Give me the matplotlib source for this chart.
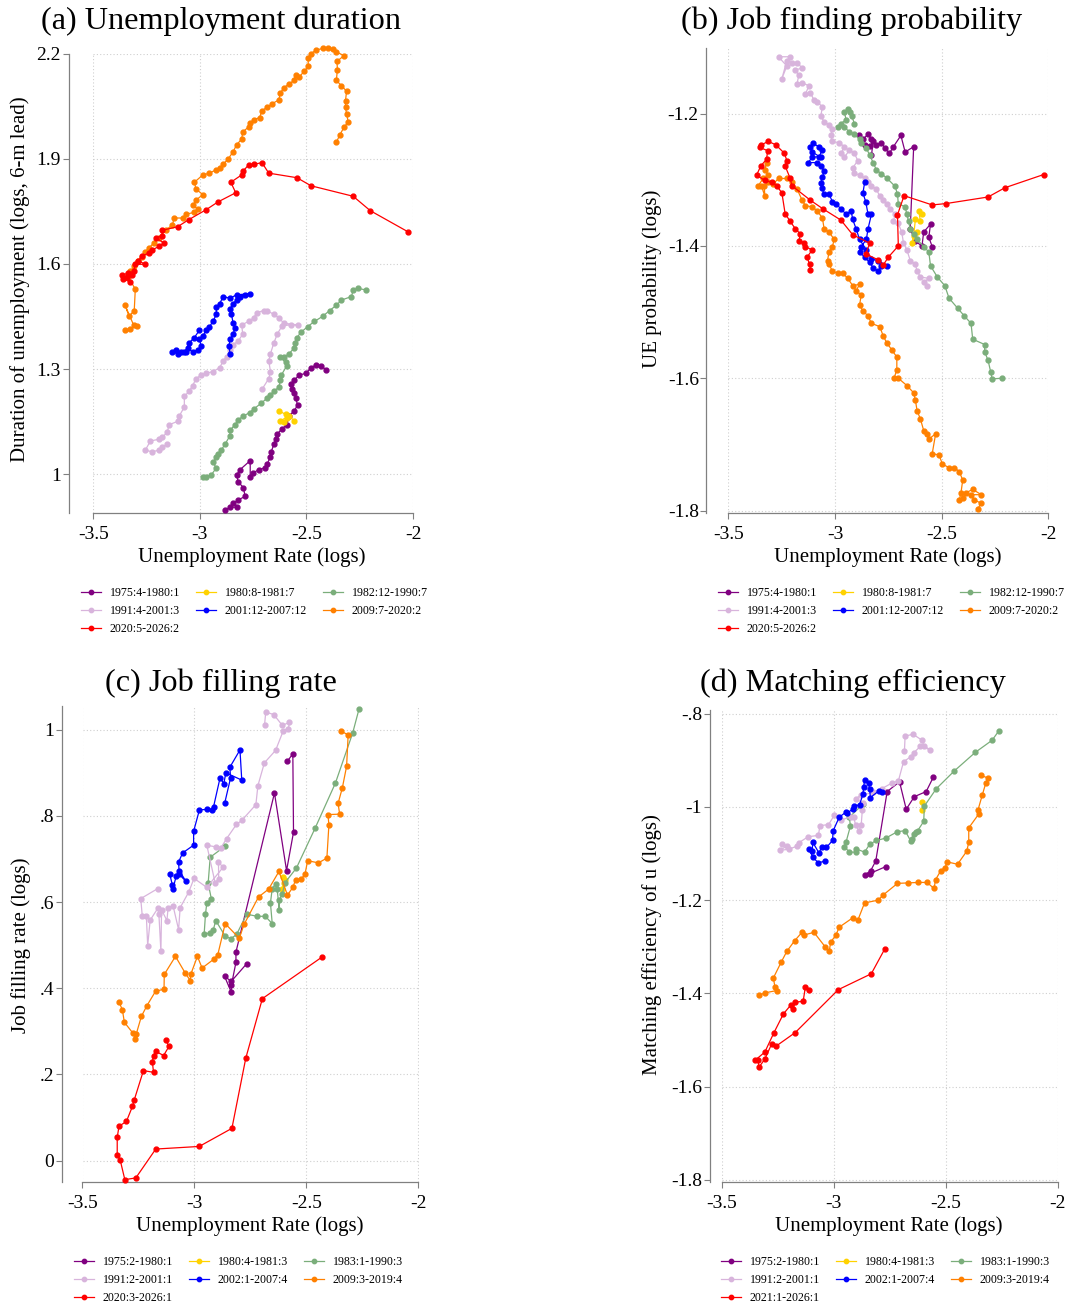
import matplotlib
matplotlib.use("Agg")
import matplotlib.pyplot as plt

plt.rcParams['font.family'] = ['Liberation Serif', 'DejaVu Serif']
plt.rcParams['axes.unicode_minus'] = False

W, H = 1065, 1308

# colours of the seven episodes (same order in every panel)
colors = ['#800080', '#FFD200', '#7BAE7B', '#D8B4DC', '#0000FF', '#FF8000', '#FF0000']

labels_ab = ['1975:4-1980:1', '1980:8-1981:7', '1982:12-1990:7', '1991:4-2001:3',
             '2001:12-2007:12', '2009:7-2020:2', '2020:5-2026:2']
labels_c = ['1975:2-1980:1', '1980:4-1981:3', '1983:1-1990:3', '1991:2-2001:1',
            '2002:1-2007:4', '2009:3-2019:4', '2020:3-2026:1']
labels_d = ['1975:2-1980:1', '1980:4-1981:3', '1983:1-1990:3', '1991:2-2001:1',
            '2002:1-2007:4', '2009:3-2019:4', '2021:1-2026:1']

xticks = [-3.5, -3, -2.5, -2]
xticklabels = ['-3.5', '-3', '-2.5', '-2']

# ---------------- (a) unemployment duration ----------------
a_1975 = [(-2.408,1.298),(-2.431,1.309),(-2.455,1.312),(-2.479,1.304),(-2.503,1.288),(-2.534,1.283),
          (-2.558,1.268),(-2.574,1.258),(-2.566,1.242),(-2.558,1.232),(-2.550,1.217),(-2.542,1.197),
          (-2.558,1.181),(-2.582,1.166),(-2.593,1.141),(-2.614,1.130),(-2.637,1.115),(-2.645,1.100),
          (-2.653,1.085),(-2.666,1.064),(-2.669,1.050),(-2.685,1.029),(-2.693,1.019),(-2.725,1.013),
          (-2.752,1.003),(-2.764,0.993),(-2.764,1.039),(-2.812,1.013),(-2.828,0.998),(-2.820,0.978),
          (-2.796,0.962),(-2.788,0.937),(-2.820,0.927),(-2.844,0.917),(-2.828,0.906),(-2.859,0.906),
          (-2.883,0.898)]
a_1980 = [(-2.630,1.181),(-2.598,1.171),(-2.590,1.161),(-2.606,1.149),(-2.622,1.153),(-2.582,1.166),
          (-2.558,1.153)]
a_1982 = [(-2.222,1.526),(-2.257,1.530),(-2.281,1.526),(-2.289,1.507),(-2.336,1.497),(-2.360,1.482),
          (-2.392,1.467),(-2.423,1.451),(-2.463,1.436),(-2.495,1.421),(-2.526,1.405),(-2.545,1.390),
          (-2.555,1.375),(-2.558,1.360),(-2.582,1.344),(-2.606,1.334),(-2.625,1.334),(-2.598,1.319),
          (-2.593,1.309),(-2.618,1.283),(-2.622,1.268),(-2.630,1.248),(-2.653,1.237),(-2.669,1.227),
          (-2.685,1.217),(-2.714,1.202),(-2.748,1.186),(-2.767,1.176),(-2.796,1.166),(-2.820,1.156),
          (-2.836,1.141),(-2.859,1.125),(-2.859,1.110),(-2.883,1.085),(-2.899,1.070),(-2.915,1.059),
          (-2.923,1.049),(-2.939,1.034),(-2.923,1.018),(-2.947,0.998),(-2.970,0.993),(-2.986,0.993)]
a_1991 = [(-2.709,1.242),(-2.677,1.273),(-2.669,1.293),(-2.677,1.324),(-2.669,1.344),(-2.653,1.375),
          (-2.637,1.400),(-2.614,1.424),(-2.574,1.426),(-2.542,1.426),(-2.606,1.431),(-2.630,1.446),
          (-2.653,1.456),(-2.685,1.467),(-2.701,1.467),(-2.733,1.461),(-2.748,1.446),(-2.772,1.436),
          (-2.804,1.426),(-2.799,1.400),(-2.820,1.380),(-2.844,1.370),(-2.859,1.355),(-2.875,1.334),
          (-2.891,1.324),(-2.907,1.304),(-2.939,1.293),(-2.970,1.288),(-2.994,1.283),(-3.018,1.273),
          (-3.034,1.253),(-3.050,1.237),(-3.073,1.222),(-3.073,1.192),(-3.097,1.166),(-3.105,1.151),
          (-3.145,1.141),(-3.153,1.120),(-3.177,1.105),(-3.192,1.100),(-3.232,1.095),(-3.256,1.069),
          (-3.224,1.064),(-3.192,1.069),(-3.177,1.079),(-3.153,1.085)]
a_2001 = [(-2.859,1.344),(-2.863,1.365),(-2.859,1.385),(-2.844,1.400),(-2.836,1.416),(-2.844,1.431),
          (-2.852,1.456),(-2.859,1.472),(-2.844,1.487),(-2.828,1.497),(-2.812,1.507),(-2.788,1.512),
          (-2.764,1.515),(-2.828,1.512),(-2.859,1.502),(-2.891,1.507),(-2.907,1.487),(-2.923,1.477),
          (-2.923,1.456),(-2.939,1.436),(-2.955,1.421),(-2.970,1.411),(-2.986,1.395),(-3.002,1.385),
          (-2.994,1.365),(-3.010,1.355),(-3.034,1.349),(-3.058,1.360),(-3.073,1.349),(-3.089,1.349),
          (-3.113,1.355),(-3.129,1.349),(-3.105,1.344),(-3.066,1.349),(-3.050,1.375),(-3.026,1.390),
          (-3.002,1.411)]
a_2009 = [(-2.360,1.947),(-2.344,1.968),(-2.324,1.990),(-2.304,2.005),(-2.312,2.027),(-2.317,2.047),
          (-2.317,2.066),(-2.312,2.093),(-2.336,2.108),(-2.360,2.124),(-2.355,2.154),(-2.357,2.178),
          (-2.324,2.194),(-2.360,2.205),(-2.376,2.212),(-2.400,2.217),(-2.423,2.215),(-2.455,2.210),
          (-2.479,2.200),(-2.492,2.188),(-2.492,2.164),(-2.511,2.149),(-2.534,2.134),(-2.550,2.139),
          (-2.558,2.124),(-2.582,2.113),(-2.606,2.103),(-2.622,2.088),(-2.630,2.068),(-2.661,2.057),
          (-2.685,2.047),(-2.709,2.037),(-2.720,2.017),(-2.748,2.012),(-2.764,2.001),(-2.772,1.991),
          (-2.799,1.976),(-2.804,1.956),(-2.828,1.940),(-2.844,1.920),(-2.867,1.900),(-2.891,1.884),
          (-2.907,1.874),(-2.923,1.869),(-2.955,1.859),(-2.986,1.854),(-3.026,1.833),(-3.018,1.813),
          (-2.986,1.798),(-3.018,1.782),(-3.034,1.767),(-3.010,1.757),(-3.026,1.747),(-3.066,1.742),
          (-3.081,1.731),(-3.121,1.731),(-3.129,1.711),(-3.161,1.696),(-3.192,1.675),(-3.216,1.660),
          (-3.240,1.645),(-3.256,1.635),(-3.272,1.619),(-3.288,1.609),(-3.307,1.594),(-3.327,1.579),
          (-3.335,1.562),(-3.303,1.528),(-3.308,1.467),(-3.332,1.451),(-3.351,1.482),(-3.311,1.426),
          (-3.295,1.424),(-3.330,1.414),(-3.351,1.411)]
a_2020 = [(-2.022,1.691),(-2.201,1.752),(-2.281,1.793),(-2.479,1.823),(-2.545,1.846),(-2.677,1.859),
          (-2.709,1.889),(-2.748,1.884),(-2.772,1.882),(-2.799,1.864),(-2.804,1.854),(-2.855,1.833),
          (-2.832,1.803),(-2.915,1.777),(-2.970,1.755),(-3.053,1.726),(-3.105,1.706),(-3.177,1.696),
          (-3.177,1.680),(-3.208,1.675),(-3.169,1.660),(-3.192,1.650),(-3.224,1.640),(-3.240,1.630),
          (-3.272,1.624),(-3.288,1.609),(-3.256,1.599),(-3.303,1.599),(-3.311,1.579),(-3.335,1.574),
          (-3.367,1.568),(-3.359,1.558),(-3.327,1.548),(-3.343,1.563),(-3.319,1.568)]

# ---------------- (b) job finding probability ----------------
b_1975 = [(-2.544,-1.401),(-2.560,-1.387),(-2.552,-1.367),(-2.584,-1.379),(-2.592,-1.400),(-2.623,-1.393),
          (-2.647,-1.374),(-2.631,-1.250),(-2.671,-1.258),(-2.691,-1.233),(-2.726,-1.250),(-2.745,-1.260),
          (-2.766,-1.252),(-2.782,-1.244),(-2.806,-1.247),(-2.829,-1.239),(-2.845,-1.231),(-2.869,-1.239),
          (-2.888,-1.233),(-2.861,-1.247),(-2.837,-1.249),(-2.821,-1.242),(-2.829,-1.263)]
b_1980 = [(-2.592,-1.352),(-2.607,-1.347),(-2.599,-1.363),(-2.623,-1.360),(-2.631,-1.385),(-2.639,-1.395),
          (-2.615,-1.379)]
b_1982 = [(-2.219,-1.600),(-2.263,-1.601),(-2.270,-1.590),(-2.282,-1.573),(-2.298,-1.560),(-2.298,-1.549),
          (-2.354,-1.541),(-2.362,-1.517),(-2.393,-1.506),(-2.425,-1.494),(-2.465,-1.479),(-2.485,-1.460),
          (-2.520,-1.447),(-2.552,-1.430),(-2.560,-1.409),(-2.584,-1.401),(-2.615,-1.390),(-2.631,-1.382),
          (-2.647,-1.374),(-2.655,-1.363),(-2.663,-1.352),(-2.671,-1.341),(-2.703,-1.336),(-2.707,-1.322),
          (-2.718,-1.310),(-2.758,-1.297),(-2.782,-1.291),(-2.806,-1.285),(-2.821,-1.274),(-2.837,-1.263),
          (-2.853,-1.252),(-2.877,-1.244),(-2.885,-1.239),(-2.909,-1.231),(-2.932,-1.228),(-2.956,-1.220),
          (-2.988,-1.220),(-2.972,-1.215),(-2.948,-1.209),(-2.956,-1.198),(-2.940,-1.193),(-2.929,-1.198),
          (-2.921,-1.204),(-2.909,-1.215)]
b_1991 = [(-2.568,-1.460),(-2.584,-1.455),(-2.560,-1.449),(-2.599,-1.447),(-2.615,-1.438),(-2.623,-1.428),
          (-2.647,-1.422),(-2.663,-1.406),(-2.679,-1.395),(-2.687,-1.379),(-2.703,-1.366),(-2.726,-1.363),
          (-2.718,-1.352),(-2.742,-1.344),(-2.758,-1.336),(-2.774,-1.331),(-2.790,-1.325),(-2.806,-1.314),
          (-2.829,-1.309),(-2.845,-1.304),(-2.861,-1.298),(-2.885,-1.293),(-2.909,-1.290),(-2.917,-1.282),
          (-2.893,-1.271),(-2.909,-1.260),(-2.932,-1.255),(-2.956,-1.266),(-2.972,-1.260),(-2.956,-1.250),
          (-2.980,-1.244),(-3.012,-1.242),(-3.020,-1.233),(-3.012,-1.223),(-3.028,-1.217),(-3.051,-1.212),
          (-3.067,-1.204),(-3.059,-1.190),(-3.083,-1.182),(-3.099,-1.179),(-3.115,-1.169),(-3.139,-1.171),
          (-3.123,-1.158),(-3.154,-1.153),(-3.178,-1.155),(-3.170,-1.142),(-3.186,-1.134),(-3.154,-1.131),
          (-3.178,-1.123),(-3.202,-1.123),(-3.226,-1.120),(-3.249,-1.147),(-3.226,-1.128),(-3.265,-1.114),
          (-3.210,-1.114)]
b_2001 = [(-2.861,-1.304),(-2.869,-1.320),(-2.856,-1.333),(-2.845,-1.352),(-2.829,-1.352),(-2.845,-1.374),
          (-2.853,-1.390),(-2.877,-1.401),(-2.885,-1.409),(-2.861,-1.417),(-2.837,-1.425),(-2.821,-1.433),
          (-2.798,-1.438),(-2.782,-1.430),(-2.758,-1.430),(-2.798,-1.422),(-2.829,-1.420),(-2.853,-1.406),
          (-2.885,-1.390),(-2.901,-1.374),(-2.917,-1.360),(-2.924,-1.347),(-2.948,-1.352),(-2.972,-1.344),
          (-2.996,-1.336),(-3.012,-1.333),(-3.028,-1.322),(-3.051,-1.322),(-3.062,-1.312),(-3.067,-1.305),
          (-3.059,-1.296),(-3.051,-1.287),(-3.067,-1.279),(-3.083,-1.274),(-3.126,-1.274),(-3.107,-1.266),
          (-3.075,-1.265),(-3.059,-1.255),(-3.075,-1.250),(-3.104,-1.245),(-3.115,-1.250),(-3.107,-1.258),
          (-3.067,-1.266)]
b_2009 = [(-2.330,-1.797),(-2.314,-1.789),(-2.346,-1.784),(-2.362,-1.776),(-2.314,-1.776),(-2.354,-1.768),
          (-2.385,-1.773),(-2.401,-1.781),(-2.417,-1.784),(-2.409,-1.773),(-2.401,-1.754),(-2.417,-1.741),
          (-2.441,-1.735),(-2.465,-1.735),(-2.496,-1.730),(-2.512,-1.716),(-2.544,-1.714),(-2.528,-1.684),
          (-2.560,-1.692),(-2.568,-1.684),(-2.584,-1.679),(-2.599,-1.662),(-2.615,-1.649),(-2.623,-1.633),
          (-2.631,-1.622),(-2.663,-1.611),(-2.703,-1.600),(-2.723,-1.600),(-2.710,-1.587),(-2.710,-1.568),
          (-2.734,-1.557),(-2.758,-1.546),(-2.774,-1.536),(-2.790,-1.522),(-2.829,-1.517),(-2.845,-1.506),
          (-2.869,-1.498),(-2.885,-1.490),(-2.877,-1.474),(-2.901,-1.468),(-2.885,-1.458),(-2.917,-1.460),
          (-2.940,-1.449),(-2.964,-1.441),(-2.988,-1.441),(-3.012,-1.438),(-3.028,-1.428),(-3.035,-1.422),
          (-3.028,-1.409),(-3.012,-1.401),(-3.004,-1.390),(-3.028,-1.379),(-3.051,-1.374),(-3.059,-1.358),
          (-3.083,-1.347),(-3.107,-1.341),(-3.139,-1.339),(-3.154,-1.331),(-3.178,-1.314),(-3.202,-1.304),
          (-3.226,-1.298),(-3.265,-1.298),(-3.289,-1.306),(-3.313,-1.304),(-3.332,-1.309),(-3.329,-1.325),
          (-3.345,-1.309),(-3.360,-1.309),(-3.337,-1.298),(-3.313,-1.293),(-3.329,-1.285),(-3.321,-1.274)]
b_2020 = [(-2.021,-1.292),(-2.203,-1.312),(-2.282,-1.326),(-2.481,-1.336),(-2.544,-1.338),(-2.676,-1.324),
          (-2.707,-1.353),(-2.703,-1.400),(-2.750,-1.417),(-2.774,-1.429),(-2.798,-1.421),(-2.856,-1.412),
          (-2.837,-1.396),(-2.917,-1.383),(-2.972,-1.361),(-3.056,-1.344),(-3.115,-1.331),(-3.202,-1.309),
          (-3.210,-1.298),(-3.234,-1.279),(-3.226,-1.271),(-3.237,-1.260),(-3.278,-1.247),(-3.313,-1.242),
          (-3.345,-1.247),(-3.353,-1.251),(-3.316,-1.256),(-3.321,-1.269),(-3.348,-1.279),(-3.368,-1.293),
          (-3.329,-1.301),(-3.297,-1.304),(-3.273,-1.309),(-3.249,-1.320),(-3.234,-1.351),(-3.210,-1.363),
          (-3.186,-1.374),(-3.162,-1.382),(-3.170,-1.393),(-3.146,-1.395),(-3.139,-1.401),(-3.107,-1.406),
          (-3.131,-1.417),(-3.119,-1.428),(-3.115,-1.436)]

# ---------------- (c) job filling rate ----------------
c_1975 = [(-2.585,0.927),(-2.561,0.944),(-2.558,0.762),(-2.589,0.673),(-2.643,0.853),(-2.815,0.484),
          (-2.815,0.460),(-2.835,0.408),(-2.836,0.391),(-2.866,0.428),(-2.836,0.416),(-2.767,0.457)]
c_1980 = [(-2.604,0.658),(-2.601,0.644),(-2.608,0.631),(-2.598,0.652)]
c_1983 = [(-2.266,1.047),(-2.294,0.992),(-2.371,0.876),(-2.462,0.771),(-2.545,0.679),(-2.596,0.645),
          (-2.608,0.619),(-2.622,0.605),(-2.622,0.582),(-2.631,0.631),(-2.638,0.642),(-2.653,0.631),
          (-2.661,0.598),(-2.653,0.550),(-2.684,0.567),(-2.721,0.567),(-2.767,0.572),(-2.812,0.525),
          (-2.837,0.515),(-2.863,0.521),(-2.905,0.557),(-2.916,0.536),(-2.930,0.529),(-2.957,0.525),
          (-2.951,0.572),(-2.945,0.598),(-2.925,0.608),(-2.939,0.644),(-2.930,0.704),(-2.865,0.729)]
c_1991 = [(-2.687,1.012),(-2.682,1.041),(-2.646,1.035),(-2.608,1.010),(-2.576,1.017),(-2.581,1.002),
          (-2.604,0.997),(-2.638,0.952),(-2.688,0.923),(-2.717,0.870),(-2.726,0.826),(-2.788,0.790),
          (-2.813,0.780),(-2.857,0.747),(-2.883,0.725),(-2.905,0.728),(-2.945,0.732),(-2.908,0.645),
          (-2.892,0.654),(-2.893,0.692),(-2.872,0.681),(-2.945,0.634),(-3.002,0.655),(-3.026,0.623),
          (-3.064,0.587),(-3.071,0.536),(-3.096,0.592),(-3.118,0.586),(-3.123,0.557),(-3.147,0.582),
          (-3.150,0.486),(-3.159,0.572),(-3.162,0.587),(-3.198,0.558),(-3.209,0.499),(-3.215,0.568),
          (-3.233,0.567),(-3.240,0.608),(-3.165,0.631)]
c_2002 = [(-2.865,0.830),(-2.839,0.888),(-2.842,0.913),(-2.797,0.953),(-2.789,0.883),(-2.860,0.900),
          (-2.869,0.875),(-2.886,0.888),(-2.915,0.821),(-2.924,0.814),(-2.942,0.815),(-2.978,0.814),
          (-3.004,0.764),(-3.004,0.732),(-3.053,0.714),(-3.071,0.693),(-3.068,0.664),(-3.038,0.648),
          (-3.068,0.673),(-3.082,0.660),(-3.096,0.631),(-3.099,0.640),(-3.111,0.666)]
c_2009 = [(-2.344,0.996),(-2.314,0.988),(-2.321,0.915),(-2.340,0.865),(-2.359,0.829),(-2.352,0.804),
          (-2.404,0.803),(-2.400,0.779),(-2.409,0.702),(-2.447,0.691),(-2.495,0.696),(-2.507,0.664),
          (-2.525,0.653),(-2.549,0.652),(-2.560,0.635),(-2.585,0.616),(-2.623,0.671),(-2.669,0.630),
          (-2.714,0.612),(-2.779,0.548),(-2.800,0.516),(-2.863,0.550),(-2.896,0.478),(-2.915,0.467),
          (-2.966,0.447),(-2.987,0.474),(-3.017,0.432),(-3.019,0.418),(-3.041,0.435),(-3.085,0.474),
          (-3.135,0.432),(-3.136,0.398),(-3.174,0.393),(-3.212,0.360),(-3.237,0.335),(-3.260,0.294),
          (-3.265,0.283),(-3.275,0.296),(-3.313,0.321),(-3.322,0.350),(-3.337,0.368)]
c_2020 = [(-2.432,0.472),(-2.697,0.376),(-2.771,0.238),(-2.833,0.075),(-2.979,0.033),(-3.173,0.027),
          (-3.262,-0.040),(-3.311,-0.044),(-3.332,0.002),(-3.345,0.014),(-3.345,0.054),(-3.337,0.080),
          (-3.304,0.091),(-3.277,0.126),(-3.269,0.141),(-3.228,0.209),(-3.183,0.205),(-3.188,0.229),
          (-3.183,0.244),(-3.174,0.254),(-3.138,0.244),(-3.114,0.265),(-3.129,0.280)]

# ---------------- (d) matching efficiency ----------------
d_1975 = [(-2.555,-0.936),(-2.587,-0.967),(-2.640,-0.978),(-2.676,-1.005),(-2.706,-0.946),(-2.761,-0.967),
          (-2.812,-1.116),(-2.835,-1.137),(-2.862,-1.146),(-2.839,-1.143),(-2.767,-1.128)]
d_1980 = [(-2.604,-0.990),(-2.604,-1.007)]
d_1983 = [(-2.263,-0.837),(-2.293,-0.857),(-2.368,-0.883),(-2.462,-0.923),(-2.542,-0.961),(-2.595,-0.998),
          (-2.598,-1.031),(-2.625,-1.051),(-2.631,-1.054),(-2.643,-1.058),(-2.650,-1.068),(-2.655,-1.074),
          (-2.681,-1.051),(-2.715,-1.053),(-2.768,-1.067),(-2.809,-1.072),(-2.839,-1.080),(-2.862,-1.097),
          (-2.899,-1.090),(-2.902,-1.097),(-2.930,-1.097),(-2.952,-1.085),(-2.945,-1.076),(-2.925,-1.041),
          (-2.930,-1.022),(-2.869,-0.994)]
d_1991 = [(-2.684,-0.880),(-2.681,-0.848),(-2.646,-0.844),(-2.605,-0.857),(-2.598,-0.869),(-2.570,-0.877),
          (-2.613,-0.870),(-2.643,-0.884),(-2.655,-0.892),(-2.688,-0.903),(-2.711,-0.944),(-2.741,-0.949),
          (-2.786,-0.961),(-2.824,-0.969),(-2.877,-0.975),(-2.902,-0.982),(-2.869,-0.992),(-2.872,-1.007),
          (-2.877,-1.039),(-2.887,-1.051),(-2.902,-1.038),(-2.911,-1.022),(-2.922,-1.021),(-2.967,-1.028),
          (-2.997,-1.018),(-3.023,-1.038),(-3.061,-1.040),(-3.068,-1.061),(-3.114,-1.064),(-3.156,-1.077),
          (-3.163,-1.084),(-3.201,-1.091),(-3.239,-1.093),(-3.209,-1.084),(-3.231,-1.080)]
d_2002 = [(-2.786,-0.967),(-2.797,-0.965),(-2.836,-0.980),(-2.839,-0.962),(-2.844,-0.949),(-2.862,-0.943),
          (-2.866,-0.957),(-2.869,-0.972),(-2.884,-0.995),(-2.911,-0.999),(-2.915,-1.005),(-2.940,-1.013),
          (-2.945,-1.011),(-2.975,-1.022),(-3.002,-1.051),(-3.005,-1.072),(-3.032,-1.087),(-3.053,-1.085),
          (-3.065,-1.099),(-3.093,-1.076),(-3.096,-1.095),(-3.108,-1.091),(-3.093,-1.108),(-3.068,-1.120),
          (-3.038,-1.116)]
d_2009 = [(-2.344,-0.932),(-2.311,-0.938),(-2.321,-0.949),(-2.337,-0.975),(-2.356,-1.007),(-2.352,-1.015),
          (-2.397,-1.045),(-2.397,-1.076),(-2.406,-1.095),(-2.447,-1.123),(-2.492,-1.118),(-2.503,-1.130),
          (-2.522,-1.137),(-2.545,-1.156),(-2.552,-1.175),(-2.583,-1.162),(-2.623,-1.162),(-2.666,-1.163),
          (-2.715,-1.164),(-2.779,-1.189),(-2.801,-1.200),(-2.862,-1.206),(-2.892,-1.243),(-2.915,-1.238),
          (-2.975,-1.258),(-2.990,-1.275),(-3.013,-1.290),(-3.020,-1.310),(-3.038,-1.300),(-3.088,-1.269),
          (-3.133,-1.275),(-3.141,-1.269),(-3.174,-1.287),(-3.209,-1.310),(-3.234,-1.333),(-3.269,-1.367),
          (-3.262,-1.386),(-3.254,-1.394),(-3.307,-1.399),(-3.332,-1.404)]
d_2021 = [(-2.771,-1.304),(-2.832,-1.358),(-2.979,-1.392),(-3.171,-1.484),(-3.259,-1.514),(-3.277,-1.509),
          (-3.307,-1.541),(-3.334,-1.559),(-3.337,-1.542),(-3.349,-1.543),(-3.307,-1.526),(-3.266,-1.484),
          (-3.224,-1.444),(-3.191,-1.425),(-3.183,-1.434),(-3.171,-1.419),(-3.136,-1.417),(-3.126,-1.386),
          (-3.108,-1.392)]

panels = [
    dict(series=[a_1975, a_1980, a_1982, a_1991, a_2001, a_2009, a_2020], labels=labels_ab,
         box=(93.3, 413.1, 53.6, 513.2), ylim=(0.889, 2.2), offset=24.7,
         yticks=[1, 1.3, 1.6, 1.9, 2.2], yticklabels=['1', '1.3', '1.6', '1.9', '2.2'],
         title='(a) Unemployment duration', title_xy=(221, 21),
         ylabel='Duration of unemployment (logs, 6-m lead)', ylabel_xy=(20, 279),
         xlabel_xy=(252, 557), legend_xy=(81, 587)),
    dict(series=[b_1975, b_1980, b_1982, b_1991, b_2001, b_2009, b_2020], labels=labels_ab,
         box=(728.4, 1048.2, 47.5, 513.2), ylim=(-1.804, -1.100), offset=22.0,
         yticks=[-1.8, -1.6, -1.4, -1.2], yticklabels=['-1.8', '-1.6', '-1.4', '-1.2'],
         title='(b) Job finding probability', title_xy=(852, 21),
         ylabel='UE probability (logs)', ylabel_xy=(652, 279),
         xlabel_xy=(888, 557), legend_xy=(718, 587)),
    dict(series=[c_1975, c_1980, c_1983, c_1991, c_2002, c_2009, c_2020], labels=labels_c,
         box=(82.5, 418.5, 706.4, 1182.1), ylim=(-0.0497, 1.054), offset=20.6,
         yticks=[0, 0.2, 0.4, 0.6, 0.8, 1], yticklabels=['0', '.2', '.4', '.6', '.8', '1'],
         title='(c) Job filling rate', title_xy=(221, 683),
         ylabel='Job filling rate (logs)', ylabel_xy=(21, 945),
         xlabel_xy=(250, 1226), legend_xy=(74, 1256)),
    dict(series=[d_1975, d_1980, d_1983, d_1991, d_2002, d_2009, d_2021], labels=labels_d,
         box=(721.6, 1057.7, 710.0, 1182.1), ylim=(-1.805, -0.792), offset=12.0,
         yticks=[-1.8, -1.6, -1.4, -1.2, -1, -0.8],
         yticklabels=['-1.8', '-1.6', '-1.4', '-1.2', '-1', '-.8'],
         title='(d) Matching efficiency', title_xy=(853, 683),
         ylabel='Matching efficiency of u (logs)', ylabel_xy=(652, 945),
         xlabel_xy=(889, 1226), legend_xy=(721, 1256)),
]

fig = plt.figure(figsize=(W / 100, H / 100), dpi=100)
axis_grey = '#808080'

for p in panels:
    left, right, top, bottom = p['box']
    ax = fig.add_axes([left / W, 1 - bottom / H, (right - left) / W, (bottom - top) / H])
    handles = []
    for pts, col, lab in zip(p['series'], colors, p['labels']):
        xs = [q[0] for q in pts]
        ys = [q[1] for q in pts]
        h, = ax.plot(xs, ys, color=col, lw=0.9, marker='o', ms=3.5, mfc=col, mec=col,
                     label=lab, clip_on=False, zorder=3)
        handles.append(h)
    ax.set_xlim(-3.5, -2)
    ax.set_ylim(*p['ylim'])
    ax.set_xticks(xticks)
    ax.set_xticklabels(xticklabels)
    ax.set_yticks(p['yticks'])
    ax.set_yticklabels(p['yticklabels'])
    ax.set_axisbelow(True)
    ax.grid(True, color='#cfcfcf', linestyle=(0, (1, 2)), linewidth=0.8)
    for s in ('top', 'right'):
        ax.spines[s].set_visible(False)
    ax.spines['left'].set_position(('outward', p['offset'] * 0.72))
    ax.spines['bottom'].set_bounds(-3.5, -2)
    for s in ('left', 'bottom'):
        ax.spines[s].set_color(axis_grey)
        ax.spines[s].set_linewidth(0.9)
    ax.tick_params(axis='both', colors=axis_grey, labelcolor='black', labelsize=14,
                   length=4, width=0.8)
    ax.tick_params(axis='x', pad=5)
    ax.tick_params(axis='y', pad=1.5)

    fig.text(p['title_xy'][0] / W, 1 - p['title_xy'][1] / H, p['title'],
             ha='center', va='center', fontsize=23.2)
    fig.text(p['xlabel_xy'][0] / W, 1 - p['xlabel_xy'][1] / H, 'Unemployment Rate (logs)',
             ha='center', va='center', fontsize=15)
    fig.text(p['ylabel_xy'][0] / W, 1 - p['ylabel_xy'][1] / H, p['ylabel'],
             ha='center', va='center', rotation=90, fontsize=15)

    order = [0, 3, 6, 1, 4, 2, 5]
    ax.legend([handles[i] for i in order], [p['labels'][i] for i in order],
              ncol=3, loc='upper left', frameon=False, fontsize=8.6,
              bbox_to_anchor=(p['legend_xy'][0] / W, 1 - p['legend_xy'][1] / H),
              bbox_transform=fig.transFigure, borderpad=0, borderaxespad=0,
              handlelength=1.65, handletextpad=0.75, columnspacing=1.35,
              labelspacing=0.5, markerscale=0.9)

fig.savefig('out.png', dpi=100)
